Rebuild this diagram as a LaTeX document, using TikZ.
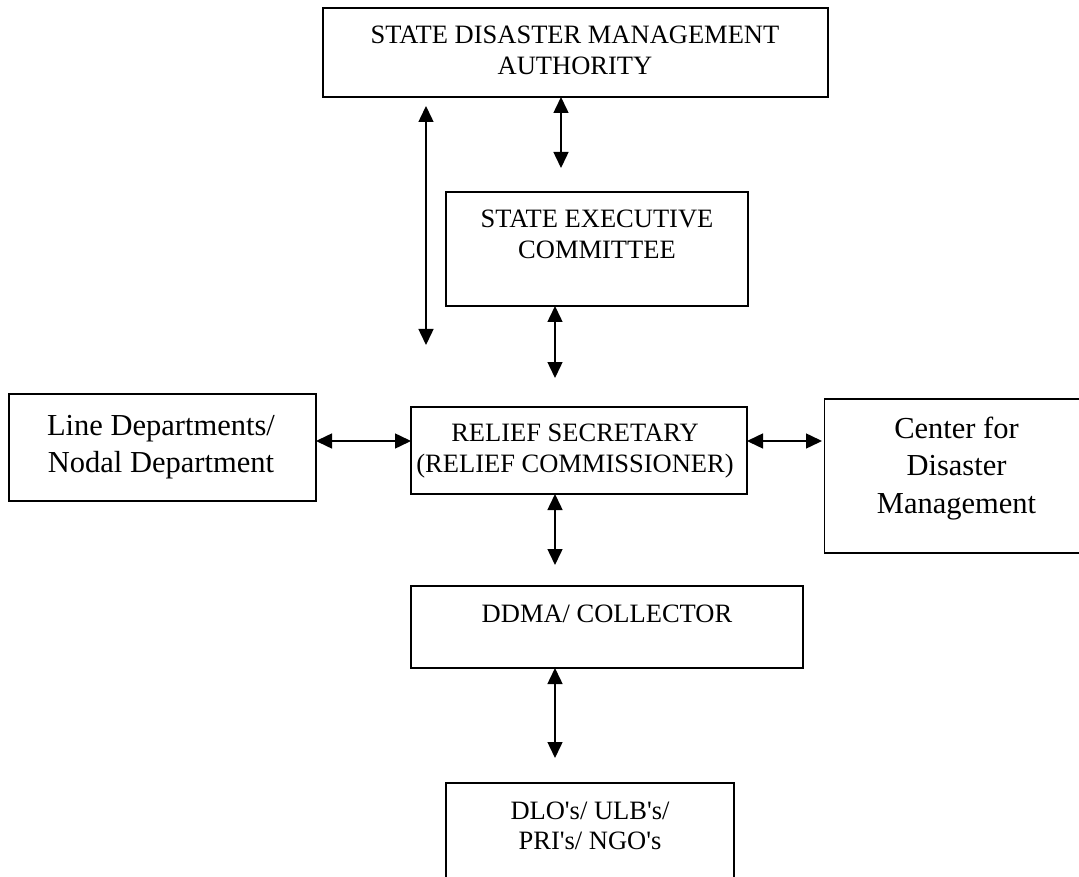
\documentclass[tikz,border=0pt]{standalone}
\usepackage{fontspec}
\setmainfont{Liberation Serif}
\usetikzlibrary{arrows.meta}
\begin{document}
\begin{tikzpicture}[x=1pt,y=-1pt,
  box/.style={draw,line width=1.3pt,inner sep=0pt,outer sep=0pt,rectangle},
  small/.style={font=\fontsize{26.5}{30.7}\selectfont,align=center,inner sep=0pt,anchor=base},
  big/.style={font=\fontsize{30.5}{37.5}\selectfont,align=center,inner sep=0pt,anchor=base},
  link/.style={line width=1.5pt,{Triangle[length=16pt,width=15pt]}-{Triangle[length=16pt,width=15pt]}}]
\useasboundingbox (0,0) rectangle (1079,877);
\clip (0,0) rectangle (1079,877);
% boxes
\node[box,minimum width=505pt,minimum height=89pt] (sdma) at (575.5,52.5) {};
\node[box,minimum width=302pt,minimum height=114pt] (sec) at (597,249) {};
\node[box,minimum width=336pt,minimum height=87pt] (rs) at (579,450.5) {};
\node[box,minimum width=307pt,minimum height=107pt] (ld) at (162.5,447.5) {};
\node[box,minimum width=265.5pt,minimum height=154pt] (cdm) at (957.25,476) {};
\node[box,minimum width=392pt,minimum height=82pt] (ddma) at (607,627) {};
\node[box,minimum width=288pt,minimum height=117pt] (dlo) at (590,841.5) {};
% texts (anchor base = baseline of the last line)
\node[small] (sdmaT) at (575,74.7) {STATE DISASTER MANAGEMENT\\AUTHORITY};
\node[small] (secT) at (597,258.3) {STATE EXECUTIVE\\COMMITTEE};
\node[small] (rsT) at (575,472.2) {RELIEF SECRETARY\\(RELIEF COMMISSIONER)};
\node[big] (ldT) at (161,472.5) {Line Departments/\\Nodal Department};
\node[big] (cdmT) at (956.5,513) {Center for\\Disaster\\Management};
\node[small] (ddmaT) at (607,622.6) {DDMA/ COLLECTOR};
\node[small] (dloT) at (590,849.7) {DLO\textquotesingle s/ ULB\textquotesingle s/\\PRI\textquotesingle s/ NGO\textquotesingle s};
% free ends
\coordinate (hl) at (0,441);
\coordinate (longTop) at (426,106);
\coordinate (longBot) at (426,345);
\coordinate (e1) at (561,168);
\coordinate (e2) at (555,378);
\coordinate (e3) at (555,565);
\coordinate (e4) at (555,758);
% connectors
\draw[link] (sdma.south -| e1) -- (e1);
\draw[link] (longTop) -- (longBot);
\draw[link] (sec.south -| e2) -- (e2);
\draw[link] (ld.east |- hl) -- (rs.west |- hl);
\draw[link,shorten >=2.5pt] (rs.east |- hl) -- (cdm.west |- hl);
\draw[link] (rs.south -| e3) -- (e3);
\draw[link] (ddma.south -| e4) -- (e4);
\end{tikzpicture}
\end{document}
